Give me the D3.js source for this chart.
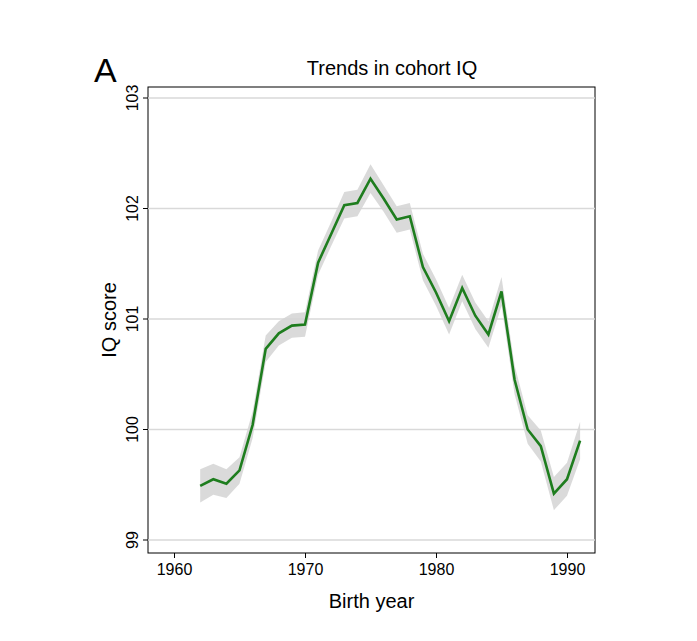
<!DOCTYPE html>
<html><head><meta charset="utf-8">
<script src="https://cdn.jsdelivr.net/npm/d3@7"></script>
<style>body{margin:0;background:#fff;font-family:Arial,"Liberation Sans",sans-serif}</style>
</head><body><svg id="c" width="697" height="641"></svg>
<script>
const years=[1962,1963,1964,1965,1966,1967,1968,1969,1970,1971,1972,1973,1974,1975,1976,1977,1978,1979,1980,1981,1982,1983,1984,1985,1986,1987,1988,1989,1990,1991];
const iq=[99.49,99.55,99.51,99.63,100.04,100.73,100.87,100.94,100.95,101.51,101.77,102.03,102.05,102.27,102.09,101.9,101.93,101.47,101.24,100.98,101.28,101.03,100.86,101.25,100.45,100.0,99.85,99.42,99.55,99.9];
const ciHalf=[0.15,0.14,0.13,0.12,0.12,0.12,0.11,0.11,0.11,0.11,0.11,0.12,0.12,0.13,0.12,0.12,0.12,0.12,0.12,0.12,0.12,0.12,0.12,0.13,0.13,0.13,0.14,0.15,0.15,0.17];
const yTicks=[99,100,101,102,103];
const xTicks=[1960,1970,1980,1990];
const svg=d3.select("#c");
const L=148,R=595,T=87,B=553;
const x=d3.scaleLinear().domain([1960,1990]).range([174,567]);
const y=d3.scaleLinear().domain([99,103]).range([540,98]);
svg.append("rect").attr("x",L).attr("y",T).attr("width",R-L).attr("height",B-T).attr("fill","none").attr("stroke","#000").attr("stroke-width",1);
svg.selectAll(".g").data(yTicks).join("line").attr("x1",L).attr("x2",R).attr("y1",d=>y(d)).attr("y2",d=>y(d)).attr("stroke","#d9d9d9").attr("stroke-width",1.5);
const area=d3.area().x((d,i)=>x(years[i])).y0((d,i)=>y(d-ciHalf[i])).y1((d,i)=>y(d+ciHalf[i]));
svg.append("path").attr("d",area(iq)).attr("fill","#d4d4d4").attr("opacity",0.85);
svg.append("path").attr("d",d3.line().x((d,i)=>x(years[i])).y(d=>y(d))(iq)).attr("fill","none").attr("stroke","#1e7d1e").attr("stroke-width",2.6);
const ya=svg.append("g").attr("transform",`translate(${L},0)`).call(d3.axisLeft(y).tickValues(yTicks).tickSize(5).tickFormat(d3.format("d")));
ya.select(".domain").remove();
ya.selectAll(".tick").attr("transform","translate(0,0)");
ya.selectAll(".tick line").attr("y1",d=>y(d)).attr("y2",d=>y(d)).attr("x2",-5);
ya.selectAll("text").attr("transform",d=>`translate(-10,${y(d)}) rotate(-90)`).attr("x",0).attr("y",0).attr("dy","0").attr("text-anchor","middle").attr("font-size",16).attr("font-family","Arial,Liberation Sans");
const xa=svg.append("g").attr("transform",`translate(0,${B})`).call(d3.axisBottom(x).tickValues(xTicks).tickSize(5).tickFormat(d3.format("d")));
xa.select(".domain").remove();
xa.selectAll("text").attr("font-size",16).attr("font-family","Arial,Liberation Sans").attr("dy","0.9em");
svg.append("text").attr("x",(L+R)/2).attr("y",608).attr("text-anchor","middle").attr("font-size",20).text("Birth year");
svg.append("text").attr("transform",`translate(116,${(T+B)/2}) rotate(-90)`).attr("text-anchor","middle").attr("font-size",20).text("IQ score");
svg.append("text").attr("x",392).attr("y",75).attr("text-anchor","middle").attr("font-size",20).text("Trends in cohort IQ");
svg.append("text").attr("x",94).attr("y",82).attr("font-size",34).text("A");
</script></body></html>
